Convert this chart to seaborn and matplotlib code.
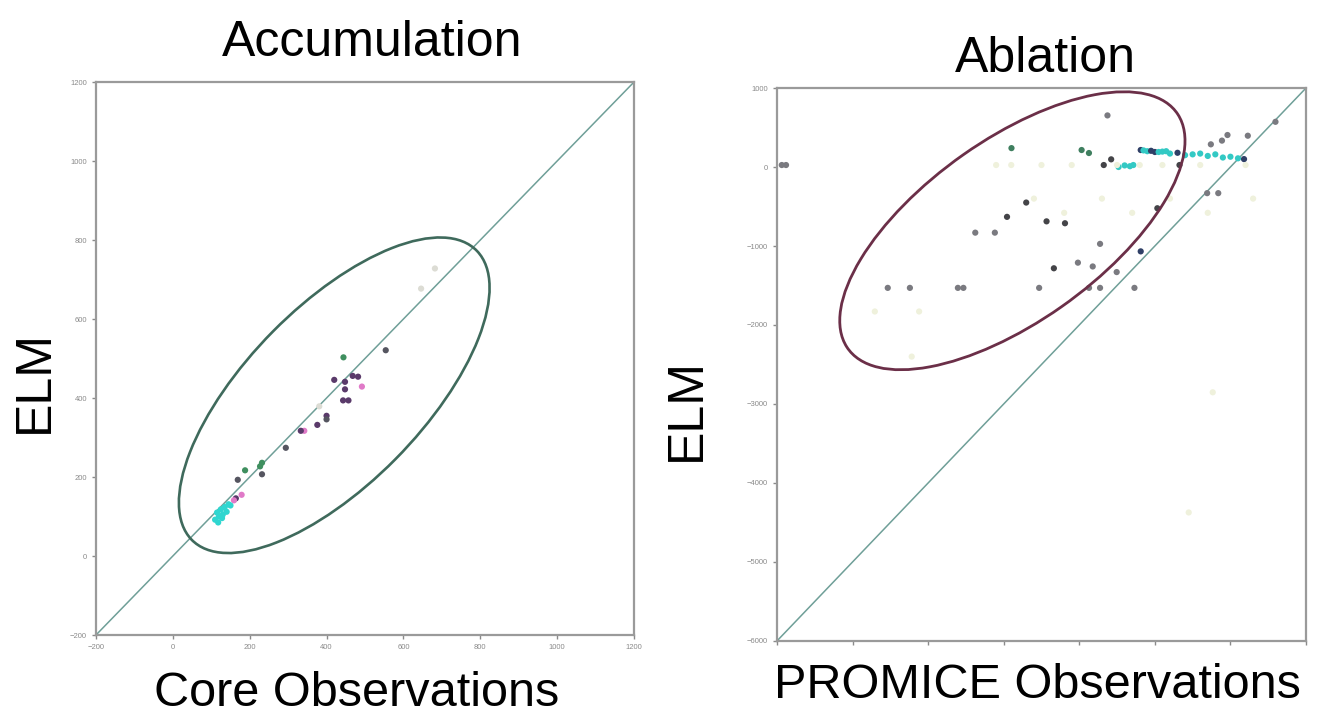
import matplotlib
matplotlib.use("Agg")
import matplotlib.pyplot as plt
from matplotlib.patches import Ellipse
import seaborn as sns
import pandas as pd

# ---------------- data ----------------
# Accumulation (Core observations vs ELM)
acc_obs = [682, 646, 554, 444, 420, 448, 468, 482, 448, 443, 457, 492,
           400, 400, 376, 381, 342, 333, 294, 232, 227, 232, 188, 169,
           179, 164, 159, 115, 125, 135, 145, 120, 110, 130, 140, 150, 118, 128]
acc_elm = [728, 677, 521, 503, 446, 441, 456, 454, 422, 394, 394, 429,
           355, 346, 332, 379, 317, 317, 274, 236, 227, 207, 217, 193,
           155, 146, 141, 110, 118, 124, 131, 100, 92, 105, 112, 128, 85, 96]
acc_grp = ["faint", "faint", "dark", "green", "purple", "purple", "purple", "purple", "purple", "purple", "purple", "pink",
           "purple", "dark", "purple", "faint", "pink", "purple", "dark", "green", "green", "dark", "green", "dark",
           "pink", "purple", "pink", "cyan", "cyan", "cyan", "cyan", "cyan", "cyan", "cyan", "cyan", "cyan", "cyan", "cyan"]

# Ablation (PROMICE observations vs ELM)
abl_obs = [-1627, -2897, -5936, -5880, -1969, -1872, -1578, -1676,
           -1480, -1400, -1330, -1285, -1187, -1100, -1000, -900, -800, -700, -600, -500, -400, -300, -200, -100, 0, 100, 180,
           -1150, -1050, -950, -850,
           -259, -112, -39, 230, 596, -674, -308, -161,
           -2702, -2956, -2433, -2189, -3376, -3117, -967, -1725, -1187,
           -2336, -2018, -1822, -1505,
           -4534, -4241, -3606, -3533, -2531, -1871, -1725, -1270,
           -3100, -2900, -2500, -2100, -1500, -1200, -900, -400, 200,
           -2600, -2200, -1700, -1300, -800, -300, 300,
           -4705, -4119, -4217, -234, -552]
abl_elm = [653, 239, 25, 25, 215, 177, 97, 25,
           0, 20, 10, 25, 215, 200, 190, 195, 170, 180, 150, 160, 170, 140, 160, 120, 130, 110, 100,
           210, 205, 190, 200,
           287, 334, 405, 396, 572, 25, -331, -331,
           -450, -631, -688, -712, -831, -831, -522, -973, -1068,
           -1282, -1211, -1259, -1330,
           -1530, -1530, -1530, -1530, -1530, -1530, -1530, -1530,
           25, 25, 25, 25, 25, 25, 25, 25, 25,
           -400, -580, -400, -580, -400, -580, -400,
           -1829, -1829, -2400, -2852, -4373]
abl_grp = ["gray", "green", "gray", "gray", "green", "green", "dark", "dark",
           "cyan", "cyan", "cyan", "cyan", "navy", "cyan", "navy", "cyan", "cyan", "navy", "cyan", "cyan", "cyan", "cyan", "cyan", "cyan", "cyan", "cyan", "navy",
           "cyan", "navy", "cyan", "cyan",
           "gray", "gray", "gray", "gray", "gray", "dark", "gray", "gray",
           "dark", "dark", "dark", "dark", "gray", "gray", "dark", "gray", "navy",
           "dark", "gray", "gray", "gray",
           "gray", "gray", "gray", "gray", "gray", "gray", "gray", "gray",
           "faint", "faint", "faint", "faint", "faint", "faint", "faint", "faint", "faint",
           "faint", "faint", "faint", "faint", "faint", "faint", "faint",
           "faint", "faint", "faint", "faint", "faint"]

acc_ticks = [-200, 0, 200, 400, 600, 800, 1000, 1200]
abl_ticks = [-6000, -5000, -4000, -3000, -2000, -1000, 0, 1000]

acc_pal = {"cyan": "#2fd6d0", "pink": "#e07ac8", "purple": "#5a3a6a",
           "green": "#3f8f5f", "dark": "#555560", "faint": "#dcdcd4"}
abl_pal = {"cyan": "#33c9c4", "navy": "#2f3f66", "green": "#3f7f5f",
           "dark": "#444448", "gray": "#7a7a80", "faint": "#eff1dc"}

# ---------------- figure ----------------
sns.set_style("white")
plt.rcParams["font.family"] = ["Liberation Sans", "DejaVu Sans"]
plt.rcParams["text.color"] = "black"

fig = plt.figure(figsize=(13.2, 7.19), dpi=100)
ax1 = fig.add_axes([0.0727, 0.1168, 0.4076, 0.7691])
ax2 = fig.add_axes([0.5886, 0.1085, 0.4008, 0.7691])

df1 = pd.DataFrame({"obs": acc_obs, "elm": acc_elm, "grp": acc_grp})
df2 = pd.DataFrame({"obs": abl_obs, "elm": abl_elm, "grp": abl_grp})

line_c = "#6f9f98"
for ax, df, pal, ticks in [(ax1, df1, acc_pal, acc_ticks), (ax2, df2, abl_pal, abl_ticks)]:
    lo, hi = ticks[0], ticks[-1]
    ax.plot([lo, hi], [lo, hi], color=line_c, lw=1.1, zorder=1)
    sns.scatterplot(data=df, x="obs", y="elm", hue="grp", palette=pal,
                    s=20, edgecolor="none", legend=False, ax=ax, zorder=3)
    ax.set_xlim(lo, hi)
    ax.set_ylim(lo, hi)
    ax.set_xticks(ticks)
    ax.set_yticks(ticks)
    for sp in ax.spines.values():
        sp.set_color("#9a9a9a")
        sp.set_linewidth(1.6)
    ax.tick_params(axis="both", labelsize=5.5, colors="#8a8a8a", length=3,
                   width=1, direction="out", bottom=True, left=True)
    ax.set_xlabel("")
    ax.set_ylabel("")

ax2.set_xticklabels([])

# annotation ellipses
ax1.add_patch(Ellipse((420, 407), width=1042, height=454, angle=44.5,
                      fill=False, edgecolor="#3f6a5c", lw=1.9, zorder=4))
ax2.add_patch(Ellipse((-2885, -807), width=5278, height=2322, angle=33.9,
                      fill=False, edgecolor="#6b2f48", lw=2.0, zorder=4))

# texts
fig.text(0.282, 0.94, "Accumulation", fontsize=36, ha="center", va="center", color="black")
fig.text(0.792, 0.918, "Ablation", fontsize=36, ha="center", va="center", color="black")
fig.text(0.0265, 0.47, "ELM", fontsize=36, ha="center", va="center", rotation=90, color="black")
fig.text(0.52, 0.43, "ELM", fontsize=36, ha="center", va="center", rotation=90, color="black")
fig.text(0.27, 0.036, "Core Observations", fontsize=35, ha="center", va="center", color="black")
fig.text(0.786, 0.046, "PROMICE Observations", fontsize=35, ha="center", va="center", color="black")

fig.savefig("out.png", dpi=100)
